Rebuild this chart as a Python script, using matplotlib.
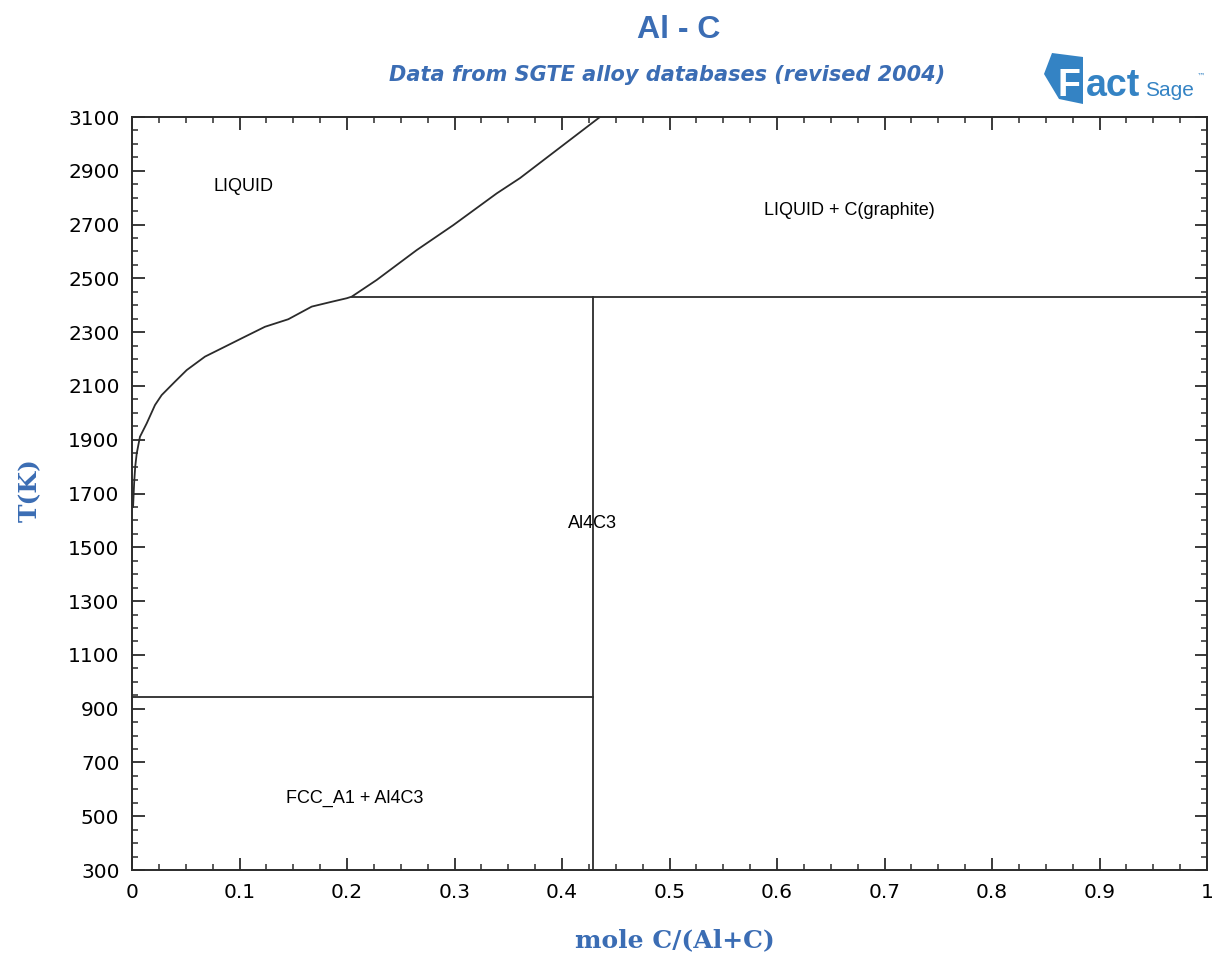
import matplotlib
matplotlib.use("Agg")
import matplotlib.pyplot as plt
from matplotlib.ticker import MultipleLocator, AutoMinorLocator, FixedLocator
from matplotlib.patches import Polygon

# Al - C phase diagram data (mole fraction C, temperature in K)
liquidus_x = [0.001, 0.002, 0.003, 0.0044, 0.0074, 0.0137, 0.0214, 0.0276, 0.040,
              0.0509, 0.0679, 0.0865, 0.102, 0.1237, 0.1454, 0.1672, 0.1858,
              0.1997, 0.2044, 0.2276, 0.2648, 0.2989, 0.3393, 0.361, 0.4353]
liquidus_T = [1650, 1740, 1800, 1849, 1911, 1961, 2029, 2066, 2116,
              2159, 2209, 2246, 2277, 2320, 2348, 2395, 2413,
              2426, 2432, 2494, 2605, 2698, 2816, 2873, 3100]

x_al4c3 = 3.0 / 7.0          # Al4C3 composition
T_peritectic = 2432          # LIQUID + C(graphite) -> Al4C3
x_peritectic = 0.2044
T_eutectic = 942             # FCC_A1 + Al4C3 invariant

x_ticks = [0, 0.1, 0.2, 0.3, 0.4, 0.5, 0.6, 0.7, 0.8, 0.9, 1]
x_tick_labels = ["0", "0.1", "0.2", "0.3", "0.4", "0.5", "0.6", "0.7", "0.8", "0.9", "1"]
y_ticks = list(range(300, 3101, 200))

region_labels = [
    ("LIQUID", 0.1033, 2840),
    ("LIQUID + C(graphite)", 0.667, 2754),
    ("Al4C3", 0.428, 1588),
    ("FCC_A1 + Al4C3", 0.2074, 567),
]

blue = "#3b6db4"
logo_blue = "#3483c4"
line_col = "#2b2b2b"

W, H = 1214, 960
fig = plt.figure(figsize=(W / 100, H / 100), dpi=100)
ax = fig.add_axes([132 / W, 1 - 870 / H, 1075 / W, 753 / H])


def px(x, y):
    """Pixel position (from top-left) to figure fraction."""
    return x / W, 1 - y / H


ax.plot(liquidus_x, liquidus_T, color=line_col, lw=1.3)
ax.plot([x_peritectic, 1.0], [T_peritectic, T_peritectic], color=line_col, lw=1.3)
ax.plot([x_al4c3, x_al4c3], [300, T_peritectic], color=line_col, lw=1.3)
ax.plot([0, x_al4c3], [T_eutectic, T_eutectic], color=line_col, lw=1.3)

ax.set_xlim(0, 1)
ax.set_ylim(300, 3100)
ax.xaxis.set_major_locator(FixedLocator(x_ticks))
ax.set_xticklabels(x_tick_labels)
ax.xaxis.set_minor_locator(AutoMinorLocator(4))
ax.yaxis.set_major_locator(FixedLocator(y_ticks))
ax.yaxis.set_minor_locator(MultipleLocator(50))

ax.tick_params(which="both", direction="in", top=True, right=True, colors=line_col)
ax.tick_params(which="major", length=9, width=1.3, labelsize=14.5, pad=9)
ax.tick_params(which="minor", length=4.5, width=1.1)
for lab in ax.get_xticklabels() + ax.get_yticklabels():
    lab.set_family(["DejaVu Sans"])
    lab.set_color("black")
for sp in ax.spines.values():
    sp.set_linewidth(1.4)
    sp.set_color(line_col)

for text, x, T in region_labels:
    ax.text(x, T, text, ha="center", va="center", fontsize=13,
            family=["Liberation Sans", "DejaVu Sans"], color="black")

ax.set_xlabel("mole C/(Al+C)", family=["DejaVu Serif"], fontweight="bold",
              fontsize=18, color=blue)
ax.set_ylabel("T(K)", family=["DejaVu Serif"], fontweight="bold",
              fontsize=18, color=blue)
ax.xaxis.set_label_coords(0.5046, -0.093)
ax.yaxis.set_label_coords(-0.095, 0.505)
ax.xaxis.label.set_va("center")
ax.yaxis.label.set_va("center")

fig.text(*px(679, 30), "Al - C", ha="center", va="center", fontsize=23,
         fontweight="bold", color=blue, family=["Liberation Sans", "DejaVu Sans"])
fig.text(*px(667, 75), "Data from SGTE alloy databases (revised 2004)", ha="center",
         va="center", fontsize=15, fontweight="bold", style="italic", color=blue,
         family=["DejaVu Sans"])

# FactSage logo: blue badge with a knocked-out "F", then "act" and "Sage"
badge = Polygon([px(1052, 53), px(1083, 57), px(1083, 104), px(1059, 99),
                 px(1044, 74)], closed=True, transform=fig.transFigure,
                facecolor=logo_blue, edgecolor="none")
fig.patches.append(badge)
fig.text(*px(1058, 96), "F", ha="left", va="baseline", fontsize=27,
         fontweight="bold", color="white", family=["Liberation Sans", "DejaVu Sans"])
fig.text(*px(1086, 96), "act", ha="left", va="baseline", fontsize=27,
         fontweight="bold", color=logo_blue, family=["Liberation Sans", "DejaVu Sans"])
fig.text(*px(1145, 96), "Sage", ha="left", va="baseline", fontsize=15,
         color=logo_blue, family=["Liberation Sans", "DejaVu Sans"])
fig.text(*px(1197, 76), "\u2122", ha="left", va="center", fontsize=6,
         color=logo_blue, family=["DejaVu Sans"])

fig.savefig("out.png", dpi=100, facecolor="white")
